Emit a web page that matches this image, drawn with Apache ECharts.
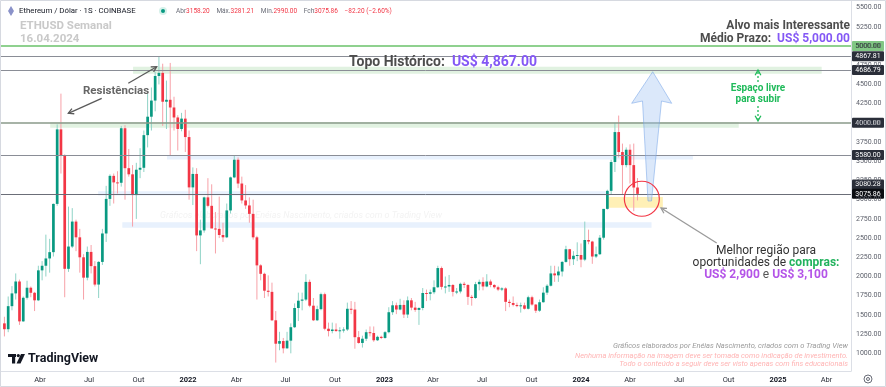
<!DOCTYPE html>
<html><head><meta charset="utf-8">
<script src="https://cdn.jsdelivr.net/npm/echarts@6/dist/echarts.min.js"></script>
<style>html,body{margin:0;padding:0;background:#fff;overflow:hidden}#c{width:886px;height:387px}</style>
</head><body><div id="c"></div>
<script>
// ---------- DATA ----------
const firstWeekUTC = [2021, 0, 25]; // Monday of first weekly candle
const openP  = [1390,1314,1614,1780,1935,1416,1723,1854,1788,1690,2080,2140,2235,2317,2945,3915,3580,2100,2390,2715,2510,2250,1985,2320,2135,1895,2190,2560,3010,3310,3225,3220,3930,3410,3330,3060,3390,3415,3840,4080,4290,4610,4650,4275,4300,4200,4070,3920,4055,3815,3160,3335,2535,2600,3030,2920,2625,2620,2540,2510,2860,3290,3520,3210,2990,2925,2815,2510,2145,2035,1815,1800,1430,1125,1160,1065,1165,1340,1590,1685,1700,1930,1620,1430,1575,1770,1320,1290,1310,1290,1300,1310,1580,1570,1210,1135,1190,1275,1265,1170,1215,1200,1275,1535,1625,1570,1630,1505,1690,1595,1565,1590,1785,1775,1795,1860,2110,1865,1870,1890,1800,1805,1905,1890,1735,1720,1900,1930,1870,1935,1890,1860,1830,1845,1670,1655,1630,1615,1625,1580,1730,1635,1555,1665,1790,1880,2040,2015,2065,2190,2355,2225,2270,2280,2220,2475,2455,2260,2290,2505,2880,3115,3490,3880,3620,3450,3650,3450,3158.20];
const highP  = [1476,1740,1875,2040,1960,1740,1945,1870,1800,2140,2200,2545,2490,2950,3980,4380,3590,2910,2890,2740,2620,2290,2390,2410,2200,2200,2620,3180,3330,3340,3370,3960,3970,3660,3450,3480,3670,3900,4375,4460,4665,4867.81,4770,4550,4780,4340,4100,4130,4170,3900,3420,3410,2740,3040,3280,3200,2840,3040,2700,2950,3300,3580,3550,3300,3190,3030,3000,2530,2160,2050,2015,1920,1550,1280,1200,1280,1390,1650,1790,1790,2030,1960,1720,1620,1790,1790,1400,1400,1390,1340,1340,1660,1680,1670,1290,1230,1310,1350,1350,1230,1230,1290,1600,1680,1660,1710,1690,1740,1720,1670,1600,1850,1830,1830,1950,2140,2130,2000,2020,1900,1850,1920,1930,1900,1760,1930,1960,1990,2030,1960,1900,1880,1860,1860,1700,1740,1660,1660,1660,1750,1750,1640,1700,1860,1900,2140,2140,2130,2200,2400,2360,2330,2445,2430,2715,2610,2465,2390,2540,2880,3130,3520,4000,4095,3730,3680,3720,3730,3281.21];
const lowP   = [1220,1275,1560,1700,1370,1410,1700,1730,1550,1680,1950,2000,2050,2260,2920,3340,1730,2060,2370,2330,2050,1700,1950,2040,1870,1720,2150,2450,2920,2950,3080,3170,3000,3300,2650,2750,3280,3360,3680,3900,4150,4500,3960,3920,3570,3900,3640,3890,3620,3000,2930,2330,2160,2570,2900,2830,2300,2500,2450,2500,2820,3280,3150,2950,2880,2700,2480,1700,1950,1720,1740,1420,880,1040,1000,1060,1000,1330,1420,1560,1680,1600,1420,1420,1560,1300,1220,1260,1280,1190,1270,1290,1510,1060,1125,1075,1160,1220,1150,1160,1185,1190,1260,1500,1510,1560,1460,1460,1560,1540,1370,1560,1680,1690,1770,1850,1830,1780,1800,1740,1770,1780,1850,1630,1620,1710,1820,1820,1860,1860,1840,1810,1810,1550,1600,1610,1600,1530,1570,1570,1620,1525,1540,1660,1760,1870,1930,1930,2000,2180,2140,2150,2200,2120,2200,2420,2165,2240,2280,2480,2870,3070,3360,3550,3060,3420,3210,2850,2990.00];
const closeP = [1314,1614,1780,1935,1416,1723,1854,1788,1690,2080,2140,2235,2317,2945,3915,3580,2100,2390,2715,2510,2250,1985,2320,2135,1895,2190,2560,3010,3310,3225,3220,3930,3410,3330,3060,3390,3415,3840,4080,4290,4610,4650,4275,4300,4200,4070,3920,4055,3815,3160,3335,2535,2600,3030,2920,2625,2620,2540,2510,2860,3290,3520,3210,2990,2925,2815,2510,2145,2035,1815,1800,1430,1125,1160,1065,1165,1340,1590,1685,1700,1930,1620,1430,1575,1770,1320,1290,1310,1290,1300,1310,1580,1570,1210,1135,1190,1275,1265,1170,1215,1200,1275,1535,1625,1570,1630,1505,1690,1595,1565,1590,1785,1775,1795,1860,2110,1865,1870,1890,1800,1805,1905,1890,1735,1720,1900,1930,1870,1935,1890,1860,1830,1845,1670,1655,1630,1615,1625,1580,1730,1635,1555,1665,1790,1880,2040,2015,2065,2190,2355,2225,2270,2280,2220,2475,2455,2260,2290,2505,2880,3115,3490,3880,3620,3450,3650,3450,3158.20,3075.86];

const yTicks = [1000,1250,1500,1750,2000,2250,2500,2750,3000,3250,3500,3750,4000,4250,4500,4750,5000,5250,5500];
const xTickDates  = ['2021-04-01','2021-07-01','2021-10-01','2022-01-01','2022-04-01','2022-07-01','2022-10-01','2023-01-01','2023-04-01','2023-07-01','2023-10-01','2024-01-01','2024-04-01','2024-07-01','2024-10-01','2025-01-01','2025-04-01'];
const xTickLabels = ['Abr','Jul','Out','2022','Abr','Jul','Out','2023','Abr','Jul','Out','2024','Abr','Jul','Out','2025','Abr'];

// horizontal levels drawn on chart
const levelValues = [5000, 4867.81, 4686.79, 4000, 3580, 3075.86];
// price tags on the axis
const tagValues = [5000, 4867.81, 4686.79, 4000, 3580, 3080.28, 3075.86];
const tagTexts  = ['5000.00','4867.81','4686.79','4000.00','3580.00','3080.28','3075.86'];
// zones: [startDate, endDate, low, high]
const greenZones  = [['2021-09-21','2025-03-23',4640,4730],['2021-04-20','2024-10-20',3935,4010]];
const blueZones   = [['2021-11-23','2024-07-27',3524,3576],['2021-07-18','2024-02-23',3055,3110],['2021-09-01','2024-05-11',2634,2707]];
const buyZone     = ['2024-02-20','2024-06-01',2895,3035];

// ---------- BUILD ----------
const DAY = 864e5;
const t0 = Date.UTC(firstWeekUTC[0], firstWeekUTC[1], firstWeekUTC[2]);
const candles = closeP.map((c, i) => [t0 + i * 7 * DAY, openP[i], c, lowP[i], highP[i]]);
const ts = s => Date.parse(s + 'T00:00:00Z');
const xTickTimes = xTickDates.map(ts);
const t2022 = Date.UTC(2022, 0, 1);
const pxPerDay = 393 / 730;
const xMin = t2022 - (188 / pxPerDay) * DAY;
const xMax = t2022 + ((851 - 188) / pxPerDay) * DAY;

const UP = '#089981', DN = '#f23645', UPW = '#8fd3c6', DNW = '#f7a1a8';

const chart = echarts.init(document.getElementById('c'), null, {renderer: 'canvas'});

const zoneArea = (z, color) => [{xAxis: ts(z[0]), yAxis: z[2], itemStyle: {color}}, {xAxis: ts(z[1]), yAxis: z[3]}];

const lineStyles = [
  {color: '#8fd18f', width: 2, type: 'solid'},
  {color: '#8a8d96', width: 1, type: 'solid'},
  {color: '#8a8d96', width: 1, type: 'solid'},
  {color: '#8a9a8a', width: 1.5, type: 'solid'},
  {color: '#8a8d96', width: 1, type: 'solid'},
  {color: '#6b6e78', width: 1, type: 'solid'}
];

chart.setOption({
  animation: false,
  backgroundColor: '#ffffff',
  grid: {left: 0, right: 35, top: 0, bottom: 16, containLabel: false},
  xAxis: {
    type: 'value', min: xMin, max: xMax, scale: true,
    axisLine: {show: true, lineStyle: {color: '#dcdfe6', width: 1}},
    axisTick: {show: false}, splitLine: {show: false},
    axisLabel: {
      customValues: xTickTimes, hideOverlap: false, margin: 5,
      fontFamily: 'Roboto, sans-serif', fontSize: 7.5, color: '#2a2e39',
      formatter: v => {
        let k = 0, best = Infinity;
        xTickTimes.forEach((t, i) => { const d = Math.abs(t - v); if (d < best) { best = d; k = i; } });
        const s = xTickLabels[k];
        return /^\d{4}$/.test(s) ? '{b|' + s + '}' : s;
      },
      rich: {b: {fontWeight: 'bold', fontSize: 7.5, color: '#131722', fontFamily: 'Roboto, sans-serif'}}
    }
  },
  yAxis: {
    type: 'value', position: 'right', min: 770, max: 5599, scale: true,
    axisLine: {show: true, lineStyle: {color: '#dcdfe6'}},
    axisTick: {show: false}, splitLine: {show: false},
    axisLabel: {customValues: yTicks, formatter: v => v.toFixed(2), fontFamily: 'Roboto, sans-serif', fontSize: 7, color: '#5d606b', margin: 5}
  },
  series: [
    {
      type: 'custom', z: 3, clip: true,
      data: candles,
      encode: {x: 0, y: [1, 2, 3, 4]},
      renderItem: (params, api) => {
        const t = api.value(0), o = api.value(1), c = api.value(2), l = api.value(3), h = api.value(4);
        const pO = api.coord([t, o]), pC = api.coord([t, c]), pL = api.coord([t, l]), pH = api.coord([t, h]);
        const up = c >= o;
        const x = pO[0];
        const w = 2.7;
        const top = Math.min(pO[1], pC[1]);
        const hh = Math.max(1, Math.abs(pO[1] - pC[1]));
        return {type: 'group', children: [
          {type: 'line', shape: {x1: x, y1: pH[1], x2: x, y2: pL[1]}, style: {stroke: up ? UPW : DNW, lineWidth: 1}},
          {type: 'rect', shape: {x: x - w / 2, y: top, width: w, height: hh}, style: {fill: up ? UP : DN}}
        ]};
      },
      markArea: {
        silent: true, z: 1,
        data: greenZones.map(z => zoneArea(z, 'rgba(120,195,120,0.22)'))
          .concat(blueZones.map(z => zoneArea(z, 'rgba(150,190,245,0.22)')))
          .concat([zoneArea(buyZone, 'rgba(255,226,110,0.5)')])
      },
      markLine: {
        silent: true, symbol: 'none', label: {show: false},
        data: levelValues.map((v, i) => ({yAxis: v, lineStyle: lineStyles[i]}))
      }
    }
  ]
});

// ---------- ANNOTATIONS ----------
const FF = 'Roboto, "Open Sans", sans-serif';
function tag(v, text, bg, fg, dy) {
  const y = chart.convertToPixel({yAxisIndex: 0}, v) + (dy || 0);
  return {type: 'group', z: 50, children: [
    {type: 'rect', shape: {x: 852, y: y - 5, width: 32, height: 10, r: 1}, style: {fill: bg}},
    {type: 'text', x: 868, y: y, style: {text: text, fill: fg, font: '7px ' + FF, align: 'center', verticalAlign: 'middle'}}
  ]};
}
function arrowHead(x1, y1, x2, y2, len, color, lw) {
  const a = Math.atan2(y2 - y1, x2 - x1), s = 0.5;
  return {type: 'polyline', z: 40, shape: {points: [
    [x2 - len * Math.cos(a - s), y2 - len * Math.sin(a - s)], [x2, y2],
    [x2 - len * Math.cos(a + s), y2 - len * Math.sin(a + s)]]}, style: {stroke: color, lineWidth: lw, fill: null}};
}
function arrow(x1, y1, x2, y2, color, lw, dash) {
  return [{type: 'line', z: 40, shape: {x1, y1, x2, y2}, style: {stroke: color, lineWidth: lw, lineDash: dash || null}},
          arrowHead(x1, y1, x2, y2, 6, color, lw)];
}
const circC = chart.convertToPixel({gridIndex: 0}, [Date.UTC(2024, 3, 23), 3012]);
const tagStyles = [
  ['#81c784', '#123b16', 0],
  ['#2a2e39', '#ffffff', 0],
  ['#2a2e39', '#ffffff', 0],
  ['#2a2e39', '#ffffff', 0],
  ['#2a2e39', '#ffffff', 0],
  ['#2a2e39', '#ffffff', -9],
  ['#0b0d12', '#ffffff', 0]
];
const g = [];
g.push({type: 'text', z: 0, x: 160, y: 216, style: {text: 'Gráficos elaborados por Enéias Nascimento, criados com o Trading View', fill: '#f3f3f3', font: 'italic 9px ' + FF, verticalAlign: 'middle'}});
g.push({type: 'polygon', z: 60, shape: {points: [[11, 6], [14, 11], [11, 16], [8, 11]]}, style: {fill: '#8a92c9'}});
g.push({type: 'text', z: 60, x: 19, y: 11, style: {text: 'Ethereum / Dólar · 1S · COINBASE', fill: '#131722', font: '7.8px ' + FF, verticalAlign: 'middle'}});
g.push({type: 'circle', z: 60, shape: {cx: 163, cy: 11, r: 4}, style: {fill: '#d6f1ea'}});
g.push({type: 'circle', z: 60, shape: {cx: 163, cy: 11, r: 2}, style: {fill: '#089981'}});
g.push({type: 'text', z: 60, x: 176, y: 11, style: {
  text: '{l|Abr}{v|3158.20}  {l|Máx.}{v|3281.21}  {l|Mín.}{v|2990.00}  {l|Fch}{v|3075.86}  {v|−82.20 (−2.60%)}',
  verticalAlign: 'middle', rich: {l: {fill: '#6a6d78', font: '6.5px ' + FF}, v: {fill: '#f23645', font: '6.5px ' + FF}}}});
g.push({type: 'text', z: 60, x: 20, y: 26, style: {text: 'ETHUSD Semanal', fill: '#c9c9c9', font: 'bold 11.5px ' + FF, verticalAlign: 'middle'}});
g.push({type: 'text', z: 60, x: 20, y: 39, style: {text: '16.04.2024', fill: '#c9c9c9', font: 'bold 11.5px ' + FF, verticalAlign: 'middle'}});
g.push({type: 'text', z: 60, x: 850, y: 26, style: {text: 'Alvo mais Interessante', fill: '#4d4d4d', font: 'bold 12px ' + FF, align: 'right', verticalAlign: 'middle'}});
g.push({type: 'text', z: 60, x: 850, y: 39, style: {text: '{a|Médio Prazo:  }{p|US$ 5,000.00}', align: 'right', verticalAlign: 'middle',
  rich: {a: {fill: '#4d4d4d', font: 'bold 12px ' + FF}, p: {fill: '#8458f5', font: 'bold 12px ' + FF}}}});
g.push({type: 'text', z: 60, x: 443, y: 62, style: {text: '{a|Topo Histórico:  }{p|US$ 4,867.00}', align: 'center', verticalAlign: 'middle',
  rich: {a: {fill: '#4d4d4d', font: 'bold 14px ' + FF}, p: {fill: '#8458f5', font: 'bold 14px ' + FF}}}});
g.push({type: 'text', z: 60, x: 116, y: 91.5, style: {text: 'Resistências', fill: '#666666', font: 'bold 11.5px ' + FF, align: 'center', verticalAlign: 'middle'}});
arrow(101.7, 98.3, 68.3, 113.3, '#5a5a5a', 1.3).forEach(e => g.push(e));
arrow(128.3, 83.3, 156.7, 66.7, '#5a5a5a', 1.3).forEach(e => g.push(e));
g.push({type: 'text', z: 60, x: 758, y: 88, style: {text: 'Espaço livre', fill: '#1fba5a', font: 'bold 10px ' + FF, align: 'center', verticalAlign: 'middle'}});
g.push({type: 'text', z: 60, x: 758, y: 99.5, style: {text: 'para subir', fill: '#1fba5a', font: 'bold 10px ' + FF, align: 'center', verticalAlign: 'middle'}});
arrow(758, 82, 758, 70, '#1fba5a', 1.3, [2, 2]).forEach(e => g.push(e));
arrow(758, 106, 758, 121, '#1fba5a', 1.3, [2, 2]).forEach(e => g.push(e));
g.push({type: 'polygon', z: 20, shape: {points: [[652.7, 71.7], [671.7, 103.3], [661.5, 101], [651.5, 201], [648, 201], [642.5, 101], [631.7, 103.3]]},
  style: {fill: 'rgba(160,195,242,0.38)', stroke: 'rgba(120,165,232,0.55)', lineWidth: 1}});
g.push({type: 'circle', z: 41, shape: {cx: circC[0], cy: circC[1], r: 17.5}, style: {fill: null, stroke: '#f23645', lineWidth: 1.2}});
arrow(716.7, 243, 661, 208, '#9a9a9a', 1.3).forEach(e => g.push(e));
g.push({type: 'text', z: 60, x: 766, y: 250.5, style: {text: 'Melhor região para', fill: '#333333', font: '12px ' + FF, align: 'center', verticalAlign: 'middle'}});
g.push({type: 'text', z: 60, x: 766, y: 262.5, style: {text: '{a|oportunidades de }{g|compras:}', align: 'center', verticalAlign: 'middle',
  rich: {a: {fill: '#333333', font: '12px ' + FF}, g: {fill: '#22b35e', font: 'bold 12px ' + FF}}}});
g.push({type: 'text', z: 60, x: 766, y: 275, style: {text: '{p|US$ 2,900}{e| e }{p|US$ 3,100}', align: 'center', verticalAlign: 'middle',
  rich: {p: {fill: '#b454e8', font: 'bold 12px ' + FF}, e: {fill: '#555555', font: '12px ' + FF}}}});
g.push({type: 'text', z: 60, x: 848, y: 346, style: {text: 'Gráficos elaborados por Enéias Nascimento, criados com o Trading View', fill: '#9a9a9a', font: 'italic 7.5px ' + FF, align: 'right', verticalAlign: 'middle'}});
g.push({type: 'text', z: 60, x: 848, y: 356, style: {text: 'Nenhuma informação na imagem deve ser tomada como indicação de investimento.', fill: '#ffb4b4', font: 'italic 7.5px ' + FF, align: 'right', verticalAlign: 'middle'}});
g.push({type: 'text', z: 60, x: 848, y: 364.5, style: {text: 'Todo o conteúdo a seguir deve ser visto apenas com fins educacionais', fill: '#ffb4b4', font: 'italic 7.5px ' + FF, align: 'right', verticalAlign: 'middle'}});
g.push({type: 'rect', z: 60, shape: {x: 8, y: 354, width: 8, height: 3}, style: {fill: '#131722'}});
g.push({type: 'rect', z: 60, shape: {x: 12, y: 354, width: 3.2, height: 9.5}, style: {fill: '#131722'}});
g.push({type: 'circle', z: 60, shape: {cx: 18.3, cy: 355.6, r: 1.6}, style: {fill: '#131722'}});
g.push({type: 'polygon', z: 60, shape: {points: [[21, 354], [25, 354], [20.5, 363.5], [16.5, 363.5]]}, style: {fill: '#131722'}});
g.push({type: 'text', z: 60, x: 28, y: 359, style: {text: 'TradingView', fill: '#131722', font: 'bold 12.5px ' + FF, verticalAlign: 'middle'}});
g.push({type: 'circle', z: 60, shape: {cx: 868, cy: 379, r: 4}, style: {fill: null, stroke: '#6a6d78', lineWidth: 1}});
g.push({type: 'circle', z: 60, shape: {cx: 868, cy: 379, r: 1.5}, style: {fill: null, stroke: '#6a6d78', lineWidth: 1}});
tagValues.forEach((v, i) => g.push(tag(v, tagTexts[i], tagStyles[i][0], tagStyles[i][1], tagStyles[i][2])));
g.push({type: 'rect', z: 70, shape: {x: 0.5, y: 0.5, width: 885, height: 386}, style: {fill: null, stroke: '#d6d9e0', lineWidth: 1}});
chart.setOption({graphic: g});
</script>
</body></html>
